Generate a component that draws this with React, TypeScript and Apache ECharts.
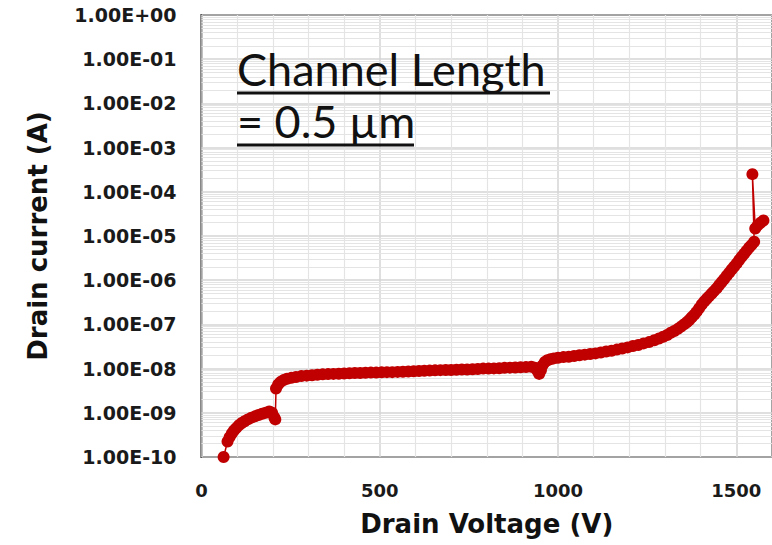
import React, { useEffect, useRef } from "react";
import * as echarts from "echarts";

// Drain voltage (V) and drain current (A)
const voltage = [
  62, 73, 79, 85, 91, 98, 105, 113, 121, 130, 140, 150, 160, 170, 180, 190, 198, 204, 207,
  209, 215, 222, 230, 240, 252, 265, 280, 295, 310, 325, 340, 355, 370, 385, 400, 415, 430,
  445, 460, 475, 490, 505, 520, 535, 550, 565, 580, 595, 610, 625, 640, 655, 670, 685, 700,
  715, 730, 745, 760, 775, 790, 805, 820, 835, 850, 865, 880, 895, 910, 925,
  935, 942, 947, 952, 957, 963, 970, 978, 988,
  1000, 1015, 1030, 1045, 1060, 1075, 1090, 1105, 1120, 1135, 1150, 1165, 1180, 1195, 1210,
  1225, 1240, 1255,
  1270, 1283, 1295, 1306, 1316, 1326, 1336, 1345, 1353, 1361, 1368, 1375, 1382, 1389, 1396,
  1403, 1410, 1417, 1424, 1431, 1438, 1445, 1452, 1459, 1466, 1473, 1480, 1487, 1494, 1501,
  1508, 1515, 1522, 1529, 1536, 1543, 1550, 1545, 1553, 1560, 1568, 1576,
];

const current = [
  1.0e-10, 2.24e-10, 2.82e-10, 3.39e-10, 3.98e-10, 4.57e-10, 5.25e-10, 5.89e-10, 6.46e-10,
  7.08e-10, 7.76e-10, 8.32e-10, 8.91e-10, 9.55e-10, 1.0e-9, 1.07e-9, 1.0e-9, 7.94e-10, 7.08e-10,
  3.55e-9, 4.37e-9, 5.01e-9, 5.5e-9, 5.89e-9, 6.17e-9, 6.46e-9, 6.76e-9, 6.92e-9, 7.08e-9,
  7.24e-9, 7.41e-9, 7.5e-9, 7.59e-9, 7.67e-9, 7.76e-9, 7.85e-9, 7.94e-9, 7.94e-9, 8.04e-9,
  8.13e-9, 8.13e-9, 8.22e-9, 8.32e-9, 8.32e-9, 8.41e-9, 8.51e-9, 8.61e-9, 8.71e-9, 8.81e-9,
  8.91e-9, 9.02e-9, 9.12e-9, 9.23e-9, 9.33e-9, 9.33e-9, 9.44e-9, 9.55e-9, 9.55e-9, 9.66e-9,
  9.77e-9, 1.0e-8, 1.0e-8, 1.01e-8, 1.02e-8, 1.04e-8, 1.05e-8, 1.06e-8, 1.07e-8, 1.08e-8, 1.1e-8,
  1.05e-8, 8.91e-9, 7.59e-9, 9.12e-9, 1.2e-8, 1.41e-8, 1.55e-8, 1.62e-8, 1.7e-8,
  1.76e-8, 1.82e-8, 1.86e-8, 1.93e-8, 2.0e-8, 2.07e-8, 2.14e-8, 2.21e-8, 2.32e-8, 2.43e-8,
  2.54e-8, 2.69e-8, 2.85e-8, 3.02e-8, 3.24e-8, 3.43e-8, 3.72e-8, 3.98e-8,
  4.37e-8, 4.79e-8, 5.25e-8, 5.75e-8, 6.46e-8, 7.08e-8, 7.94e-8, 8.91e-8, 1.0e-7, 1.12e-7,
  1.26e-7, 1.45e-7, 1.66e-7, 1.95e-7, 2.34e-7, 2.82e-7, 3.31e-7, 3.8e-7, 4.37e-7, 5.01e-7,
  5.75e-7, 6.61e-7, 7.76e-7, 9.12e-7, 1.07e-6, 1.26e-6, 1.48e-6, 1.74e-6, 2.04e-6, 2.4e-6,
  2.88e-6, 3.39e-6, 3.98e-6, 4.68e-6, 5.5e-6, 6.31e-6, 7.41e-6, 2.51e-4, 1.48e-5, 1.74e-5,
  2.0e-5, 2.24e-5,
];

// Decade tick labels (exponents -10 .. 0)
const yTickLabels = [
  "1.00E-10", "1.00E-09", "1.00E-08", "1.00E-07", "1.00E-06", "1.00E-05",
  "1.00E-04", "1.00E-03", "1.00E-02", "1.00E-01", "1.00E+00",
];
const yDecades = [1e-10, 1e-9, 1e-8, 1e-7, 1e-6, 1e-5, 1e-4, 1e-3, 1e-2, 1e-1];
const yMinorMultipliers = [2, 3, 4, 5, 6, 7, 8, 9];
const xMinorTicks = [100, 200, 300, 400, 600, 700, 800, 900, 1100, 1200, 1300, 1400];

const annotationLines = ["Channel Length", "= 0.5 µm"];

export default function App() {
  const ref = useRef<HTMLDivElement>(null);

  useEffect(() => {
    if (!ref.current) return;
    const chart = echarts.init(ref.current, undefined, { renderer: "svg" });

    const seriesData = voltage.map((v, i) => [v, current[i]]);
    const minorY: any[] = [];
    yDecades.forEach((d) => {
      yMinorMultipliers.forEach((m) => minorY.push({ yAxis: m * d }));
    });
    const minorX = xMinorTicks.map((v) => ({ xAxis: v }));

    const tickFont = {
      fontFamily: "DejaVu Sans",
      fontWeight: "bold" as const,
      fontSize: 18,
      color: "#1a1a1a",
    };
    const titleFont = {
      fontFamily: "DejaVu Sans",
      fontWeight: "bold" as const,
      fontSize: 26,
      color: "#111",
    };
    const majorSplit = { show: true, lineStyle: { color: "#d4d4d4", width: 1.5 } };

    chart.setOption({
      animation: false,
      backgroundColor: "#ffffff",
      grid: {
        left: 201.5,
        top: 15,
        width: 584,
        height: 442,
        show: true,
        borderColor: "#111",
        borderWidth: 2,
        backgroundColor: "#ffffff",
      },
      xAxis: {
        type: "value",
        min: 0,
        max: 1600,
        interval: 500,
        axisLine: { show: false },
        axisTick: { show: false },
        splitLine: majorSplit,
        axisLabel: {
          ...tickFont,
          margin: 24,
          showMaxLabel: false,
          formatter: (v: number) => String(v),
        },
        name: "Drain Voltage (V)",
        nameLocation: "middle",
        nameGap: 54,
        nameTextStyle: titleFont,
      },
      yAxis: [
        {
          // logarithmic scale that places the data
          type: "log",
          logBase: 10,
          min: 1e-10,
          max: 1,
          show: false,
        },
        {
          // decade ticks, labels and major grid (log10 of current)
          type: "value",
          min: -10,
          max: 0,
          interval: 1,
          position: "left",
          axisLine: { show: false },
          axisTick: { show: false },
          splitLine: majorSplit,
          axisLabel: {
            ...tickFont,
            fontSize: 19,
            margin: 25,
            formatter: (v: number) => yTickLabels[Math.round(v) + 10] ?? "",
          },
          name: "Drain current (A)",
          nameLocation: "middle",
          nameGap: 151,
          nameTextStyle: titleFont,
        },
      ],
      series: [
        {
          type: "line",
          yAxisIndex: 0,
          data: [],
          z: 1,
          silent: true,
          markLine: {
            silent: true,
            z: 1,
            precision: 20,
            symbol: ["none", "none"],
            label: { show: false },
            lineStyle: { color: "#e4e4e4", width: 1.2, type: "solid" },
            data: [...minorY, ...minorX],
          },
        },
        {
          type: "line",
          yAxisIndex: 0,
          data: seriesData,
          z: 10,
          clip: false,
          symbol: "circle",
          symbolSize: 12,
          itemStyle: { color: "#c00000" },
          lineStyle: { color: "#c00000", width: 1.5 },
        },
      ],
      graphic: [
        {
          type: "text",
          left: 237,
          top: 46,
          z: 20,
          style: {
            text: annotationLines[0],
            font: "normal 45px Lato",
            fill: "#111",
          },
        },
        {
          type: "text",
          left: 237,
          top: 98,
          z: 20,
          style: {
            text: annotationLines[1],
            font: "normal 45px Lato",
            fill: "#111",
          },
        },
        {
          type: "line",
          z: 20,
          shape: { x1: 237, y1: 93, x2: 550, y2: 93 },
          style: { stroke: "#111", lineWidth: 3 },
        },
        {
          type: "line",
          z: 20,
          shape: { x1: 237, y1: 145, x2: 414, y2: 145 },
          style: { stroke: "#111", lineWidth: 3 },
        },
      ],
    });

    return () => chart.dispose();
  }, []);

  return (
    <div
      ref={ref}
      style={{ position: "fixed", left: 0, top: 0, width: 772, height: 545, background: "#fff" }}
    />
  );
}
